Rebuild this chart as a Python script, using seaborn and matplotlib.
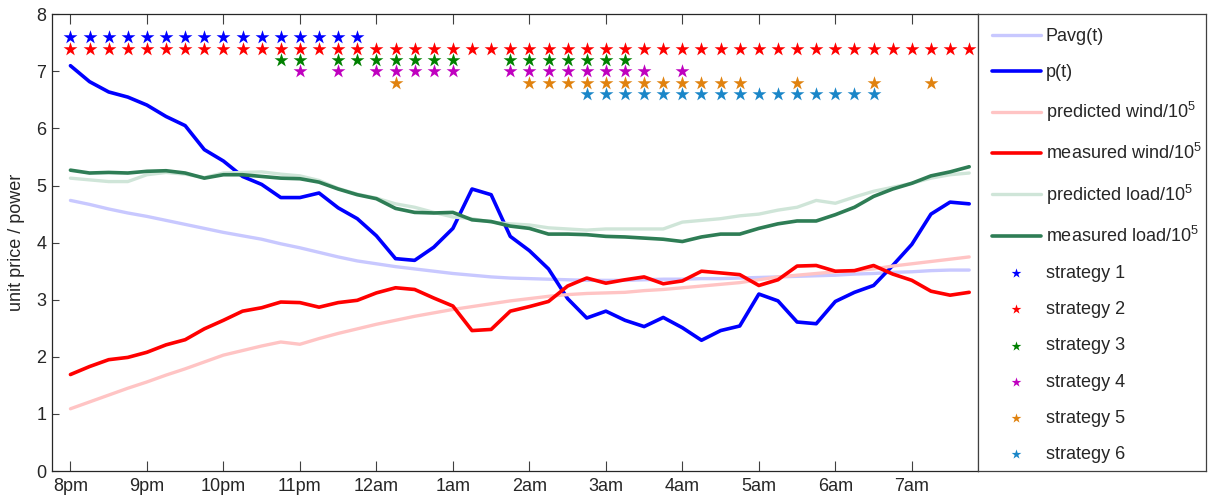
import numpy as np
import pandas as pd
import seaborn as sns
import matplotlib.pyplot as plt

# DATA (15 minute slots starting at 8pm)
hour_labels = ["8pm", "9pm", "10pm", "11pm", "12am", "1am", "2am", "3am", "4am", "5am", "6am", "7am"]

pavg = [4.74, 4.67, 4.59, 4.52, 4.46, 4.39, 4.32, 4.25, 4.18, 4.12, 4.06, 3.98,
        3.91, 3.83, 3.75, 3.68, 3.63, 3.58, 3.54, 3.50, 3.46, 3.43, 3.40, 3.38,
        3.37, 3.36, 3.35, 3.34, 3.34, 3.34, 3.35, 3.36, 3.36, 3.37, 3.37, 3.38,
        3.39, 3.40, 3.41, 3.42, 3.43, 3.45, 3.46, 3.48, 3.49, 3.51, 3.52, 3.52]
price = [7.10, 6.82, 6.64, 6.55, 6.41, 6.21, 6.05, 5.63, 5.43, 5.16, 5.02, 4.79,
         4.79, 4.87, 4.61, 4.42, 4.12, 3.72, 3.69, 3.92, 4.25, 4.94, 4.84, 4.11,
         3.86, 3.54, 3.02, 2.68, 2.80, 2.64, 2.53, 2.69, 2.51, 2.29, 2.46, 2.54,
         3.10, 2.98, 2.61, 2.58, 2.97, 3.13, 3.25, 3.60, 3.97, 4.50, 4.71, 4.68]
wind_pred = [1.09, 1.21, 1.33, 1.45, 1.56, 1.68, 1.79, 1.91, 2.03, 2.11, 2.19, 2.26,
             2.22, 2.32, 2.41, 2.49, 2.57, 2.64, 2.71, 2.77, 2.83, 2.88, 2.93, 2.98,
             3.02, 3.06, 3.09, 3.11, 3.12, 3.13, 3.16, 3.18, 3.21, 3.24, 3.27, 3.30,
             3.35, 3.40, 3.43, 3.46, 3.49, 3.51, 3.54, 3.59, 3.63, 3.67, 3.71, 3.75]
wind_meas = [1.69, 1.83, 1.95, 1.99, 2.08, 2.21, 2.30, 2.49, 2.64, 2.80, 2.86, 2.96,
             2.95, 2.87, 2.95, 2.99, 3.12, 3.21, 3.18, 3.03, 2.89, 2.46, 2.48, 2.80,
             2.88, 2.97, 3.24, 3.38, 3.29, 3.35, 3.40, 3.28, 3.33, 3.50, 3.47, 3.44,
             3.25, 3.35, 3.59, 3.60, 3.50, 3.51, 3.60, 3.45, 3.34, 3.15, 3.08, 3.13]
load_pred = [5.13, 5.10, 5.07, 5.07, 5.19, 5.23, 5.20, 5.14, 5.22, 5.23, 5.24, 5.20,
             5.17, 5.09, 4.95, 4.85, 4.78, 4.68, 4.62, 4.53, 4.45, 4.42, 4.36, 4.33,
             4.31, 4.26, 4.24, 4.22, 4.24, 4.24, 4.24, 4.24, 4.36, 4.39, 4.42, 4.47,
             4.50, 4.57, 4.62, 4.74, 4.69, 4.80, 4.90, 4.97, 5.04, 5.13, 5.19, 5.22]
load_meas = [5.27, 5.22, 5.23, 5.22, 5.25, 5.26, 5.22, 5.13, 5.19, 5.19, 5.16, 5.13,
             5.12, 5.06, 4.94, 4.84, 4.77, 4.60, 4.53, 4.52, 4.53, 4.40, 4.37, 4.29,
             4.25, 4.15, 4.15, 4.14, 4.11, 4.10, 4.08, 4.06, 4.02, 4.10, 4.15, 4.15,
             4.25, 4.33, 4.38, 4.38, 4.49, 4.62, 4.81, 4.94, 5.04, 5.17, 5.24, 5.33]

# slots where each strategy is active, and the row it is drawn on
strategy_slots = {
    "strategy 1": list(range(0, 16)),
    "strategy 2": list(range(0, 48)),
    "strategy 3": [11, 12, 14, 15, 16, 17, 18, 19, 20, 23, 24, 25, 26, 27, 28, 29],
    "strategy 4": [12, 14, 16, 17, 18, 19, 20, 23, 24, 25, 26, 27, 28, 29, 30, 32],
    "strategy 5": [17, 24, 25, 26, 27, 28, 29, 30, 31, 32, 33, 34, 35, 38, 42, 45],
    "strategy 6": list(range(27, 43)),
}
strategy_level = [7.6, 7.4, 7.2, 7.0, 6.8, 6.6]
strategy_colors = ["#0000ff", "#ff0000", "#008000", "#bf00bf", "#e0820f", "#1a86c8"]

t = np.arange(len(price)) / 4.0

# PLOT SETTING
sns.set_style("ticks")
plt.rcParams["font.family"] = ["Liberation Sans", "DejaVu Sans"]
plt.rcParams["mathtext.default"] = "regular"
plt.rcParams["font.size"] = 13

fig = plt.figure(figsize=(12.08, 4.97), dpi=100)
ax = fig.add_axes([0.0428, 0.0523, 0.7668, 0.9189])
lax = fig.add_axes([0.8096, 0.0523, 0.1887, 0.9189])

series = [
    ("Pavg(t)", pavg, "#c8c8ff", 2.4),
    ("p(t)", price, "#0000ff", 2.6),
    ("predicted wind/10$^5$", wind_pred, "#ffc4c4", 2.4),
    ("measured wind/10$^5$", wind_meas, "#ff0000", 2.6),
    ("predicted load/10$^5$", load_pred, "#cfe5d8", 2.4),
    ("measured load/10$^5$", load_meas, "#2e7d55", 2.6),
]

handles, labels = [], []
for name, vals, col, lw in series:
    sns.lineplot(x=t, y=vals, color=col, linewidth=lw, ax=ax, legend=False)
    handles.append(ax.lines[-1])
    labels.append(name)

for (name, slots), lvl, col in zip(strategy_slots.items(), strategy_level, strategy_colors):
    df = pd.DataFrame({"t": np.array(slots) / 4.0, "y": lvl})
    sns.scatterplot(data=df, x="t", y="y", marker="*", s=110, color=col,
                    linewidth=0, ax=ax, legend=False)
    handles.append(ax.collections[-1])
    labels.append(name)

# AXES
ax.set_xlim(-0.245, 11.865)
ax.set_ylim(0, 8)
ax.set_xticks(range(len(hour_labels)))
ax.set_xticklabels(hour_labels)
ax.set_yticks(range(0, 9))
ax.set_xlabel("")
ax.set_ylabel("unit price / power", labelpad=8)
ax.tick_params(axis="x", direction="in", length=7.5, top=True, color="#404040", pad=5)
ax.tick_params(axis="y", direction="in", length=5, color="#404040", pad=4)
for sp in ax.spines.values():
    sp.set_visible(True)
    sp.set_color("#262626")
    sp.set_linewidth(0.9)
ax.spines["right"].set_color("#808080")

# LEGEND
lax.set_xticks([])
lax.set_yticks([])
for sp in lax.spines.values():
    sp.set_color("#404040")
    sp.set_linewidth(0.9)
lax.legend(handles, labels, loc="upper left", frameon=False, handlelength=2.75,
           handletextpad=0.25, labelspacing=1.06, borderaxespad=0.1,
           scatterpoints=1, markerscale=0.7, borderpad=0.65)

plt.savefig("out.png", dpi=100)
plt.close()
